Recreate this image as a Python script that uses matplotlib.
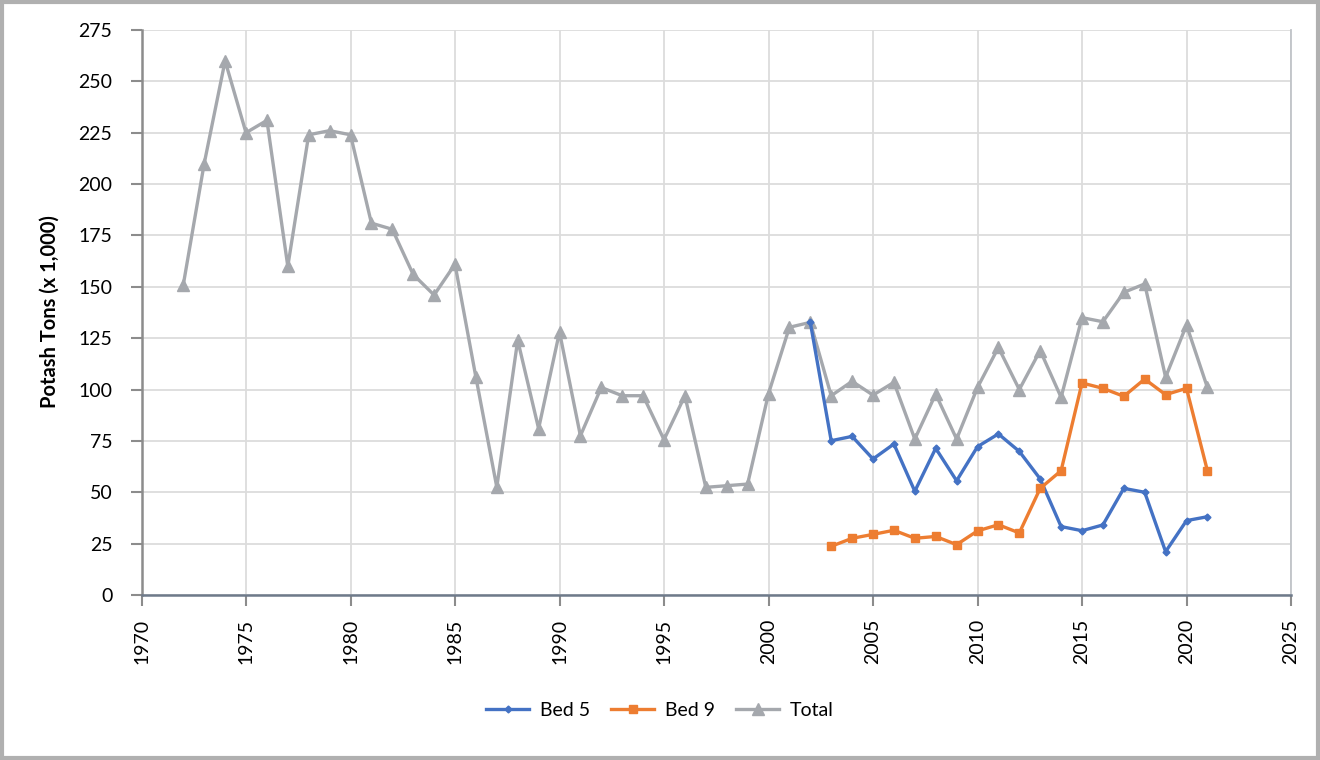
import matplotlib
matplotlib.use("Agg")
import matplotlib.pyplot as plt
from matplotlib.patches import Rectangle

plt.rcParams['font.family'] = ['Lato', 'DejaVu Sans']

years_total = list(range(1972, 2022))
total = [151, 210, 260, 225, 231, 160, 224, 226, 224, 181,
         178, 156, 146, 161, 106, 52.5, 124, 81, 128, 77.5,
         101, 97, 97, 75.6, 97, 52.4, 53.2, 54, 98, 130.3,
         132.7, 97, 104, 97.3, 103.5, 75.9, 97.8, 75.9, 101, 120.5,
         100, 119, 96.2, 135, 133, 147.3, 151.4, 106, 131.4, 101]

years_bed5 = list(range(2002, 2022))
bed5 = [132.7, 75.1, 77.2, 66.2, 73.5, 50.5, 71.4, 55.6, 72.2, 78.4,
        69.9, 56.5, 33.3, 31.3, 34.1, 51.9, 50, 21.1, 36.2, 38.1]

years_bed9 = list(range(2003, 2022))
bed9 = [23.7, 27.6, 29.5, 31.5, 27.6, 28.5, 24.5, 31.2, 34.2, 30.2,
        51.9, 60.5, 103.2, 100.6, 96.7, 105.1, 97.5, 100.6, 60.5]

x_ticks = list(range(1970, 2026, 5))
y_ticks = list(range(0, 276, 25))

c_blue = '#4472C4'
c_orange = '#ED7D31'
c_grey = '#A5A8AD'

fig = plt.figure(figsize=(13.2, 7.6), dpi=100)
ax_l, ax_r, ax_b, ax_t = 141.5 / 1320, 1291 / 1320, 1 - 595 / 760, 1 - 30 / 760
ax = fig.add_axes([ax_l, ax_b, ax_r - ax_l, ax_t - ax_b])

ax.plot(years_bed5, bed5, color=c_blue, lw=2.4, marker='D', markersize=3.5,
        label='Bed 5', zorder=3)
ax.plot(years_bed9, bed9, color=c_orange, lw=2.4, marker='s', markersize=5.5,
        label='Bed 9', zorder=3)
ax.plot(years_total, total, color=c_grey, lw=2.4, marker='^', markersize=8,
        label='Total', zorder=2)

ax.set_xlim(1970, 2025)
ax.set_ylim(0, 275)
ax.set_xticks(x_ticks)
ax.set_yticks(y_ticks)
ax.set_xticklabels([str(t) for t in x_ticks], rotation=90)
ax.tick_params(axis='both', labelsize=14, colors='black')
ax.tick_params(axis='y', length=8, width=1.5, color='#8c8c8c', pad=13)
ax.tick_params(axis='x', length=8, width=1.5, color='#8c8c8c', pad=9)

ax.grid(True, color='#dcdcdc', lw=1.3)
ax.set_axisbelow(True)
ax.spines['top'].set_visible(False)
ax.spines['right'].set_color('#c0c4c8')
ax.spines['right'].set_linewidth(1.3)
ax.spines['left'].set_color('#8c8c8c')
ax.spines['left'].set_linewidth(1.8)
ax.spines['bottom'].set_color('#6e7a8a')
ax.spines['bottom'].set_linewidth(1.8)

fig.text(50 / 1320, 1 - 312 / 760, 'Potash Tons (x 1,000)', rotation=90,
         ha='center', va='center', fontsize=14.5, fontweight='bold')

fig.legend(loc='center', bbox_to_anchor=(660 / 1320, 1 - 710 / 760), ncol=3,
           frameon=False, fontsize=14, handlelength=2.2, columnspacing=1.1,
           handletextpad=0.55)

fig.patches.append(Rectangle((0.0015, 0.002), 0.997, 0.996, transform=fig.transFigure,
                             fill=False, edgecolor='#b0b0b0', lw=3))

fig.savefig('out.png', dpi=100)
